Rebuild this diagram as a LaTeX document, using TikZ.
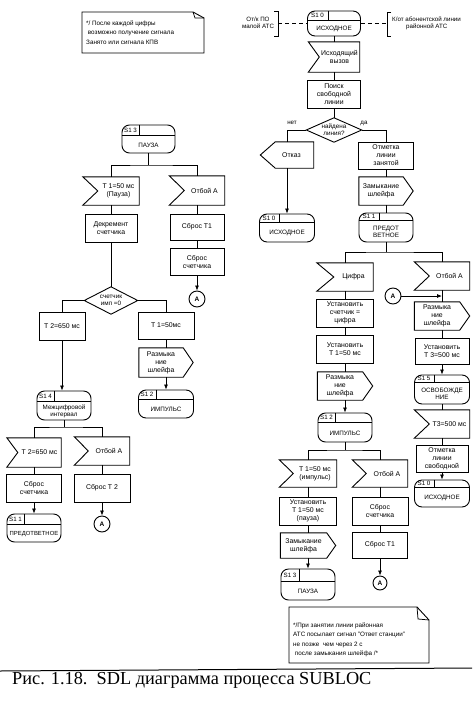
\documentclass[tikz,border=0pt]{standalone}
\usepackage{fontspec}
\setmainfont{Liberation Sans}
\newfontfamily\capfont{Liberation Serif}
\usetikzlibrary{calc,arrows.meta}
\tikzset{
  shp/.style={line width=0.9pt},
  ln/.style={line width=0.75pt},
  arr/.style={line width=0.75pt,-{Latex[length=5pt,width=4pt]}},
  txt/.style={font=\fontsize{6.9}{8}\selectfont, align=center, inner sep=0pt},
  stxt/.style={font=\fontsize{6.3}{7.2}\selectfont, align=center, inner sep=0pt},
  lbl/.style={font=\fontsize{6.2}{7.2}\selectfont, inner sep=0pt},
  conn/.style={shp,draw,circle,minimum size=16pt,inner sep=0pt,font=\bfseries\fontsize{6.5}{7}\selectfont},
  notetxt/.style={anchor=north west,align=left,inner sep=0pt,font=\fontsize{6.3}{9.5}\selectfont},
}
% task box
\newcommand\sdltask[6]{%
  \node[shp,draw,minimum width=#4pt,minimum height=#5pt,txt] (#1) at (#2,#3) {#6};}
% input: notch on the left
\newcommand\sdlin[7]{%
  \node[minimum width=#4pt,minimum height=#5pt,inner sep=0pt] (#1) at (#2,#3) {};
  \draw[shp] (#1.north west) -- (#1.north east) -- (#1.south east) -- (#1.south west) -- ($(#1.west)+(#6,0)$) -- cycle;
  \node[txt] (#1-t) at ($(#1.center)+(0.5*#6,0)$) {#7};}
% output: point on the right
\newcommand\sdlout[7]{%
  \node[minimum width=#4pt,minimum height=#5pt,inner sep=0pt] (#1) at (#2,#3) {};
  \draw[shp] (#1.north west) -- ($(#1.north east)+(-#6,0)$) -- (#1.east) -- ($(#1.south east)+(-#6,0)$) -- (#1.south west) -- cycle;
  \node[txt] (#1-t) at ($(#1.center)+(-0.5*#6,0)$) {#7};}
% output: point on the left
\newcommand\sdloutl[7]{%
  \node[minimum width=#4pt,minimum height=#5pt,inner sep=0pt] (#1) at (#2,#3) {};
  \draw[shp] ($(#1.north west)+(#6,0)$) -- (#1.north east) -- (#1.south east) -- ($(#1.south west)+(#6,0)$) -- (#1.west) -- cycle;
  \node[txt] (#1-t) at ($(#1.center)+(0.3*#6,0)$) {#7};}
% state: name,cx,cy,w,h,label,lw,lh,text
\newcommand\sdlstate[9]{%
  \node[shp,draw,rounded corners=7.5pt,minimum width=#4pt,minimum height=#5pt,inner sep=0pt] (#1) at (#2,#3) {};
  \draw[shp] ($(#1.north west)+(0,#8)$) -- ($(#1.north east)+(0,#8)$);
  \draw[shp] ($(#1.north west)+(#7,0)$) -- ++(0,#8);
  \node[lbl] (#1-l) at ($(#1.north west)+(0.5*#7,0.5*#8)$) {#6};
  \node[stxt] (#1-t) at ($(#1.south)+(0,0.5*#8-0.5*#5)$) {#9};}
% decision
\newcommand\sdldec[6]{%
  \node[minimum width=#4pt,minimum height=#5pt,inner sep=0pt] (#1) at (#2,#3) {};
  \draw[shp] (#1.north) -- (#1.east) -- (#1.south) -- (#1.west) -- cycle;
  \node[stxt] (#1-t) at (#1.center) {#6};}

\begin{document}
\begin{tikzpicture}[x=1pt,y=-1pt]
\useasboundingbox (0,0) rectangle (472,720);

% ---------- notes ----------
\draw[shp] (82,12) -- (193,12) -- (204,18) -- (204,53) -- (82,53) -- cycle;
\draw[ln] (193,12) -- (195,18) -- (204,18);
\node[notetxt] (note1) at (86,20.5) {*/ После каждой цифры\\\ возможно получение сигнала\\Занято или сигнала КПВ};

\draw[shp] (289,607) -- (417,607) -- (429,620) -- (429,663) -- (289,663) -- cycle;
\draw[ln] (417,607) -- (418,619) -- (429,620);
\node[notetxt] (note2) at (293,622.5) {*/При занятии линии районная\\АТС посылает сигнал "Ответ станции"\\не позже\ \ чем через 2 с\\\ после замыкания шлейфа /*};

% ---------- right part ----------
\sdlstate{s10a}{334}{23.5}{53}{25}{S1 0}{21}{10}{ИСХОДНОЕ}
% environment brackets
\coordinate (bl) at (278,23.5);
\coordinate (br) at (387,23.5);
\draw[shp] (274,11) -- (278,11) -- (278,36) -- (274,36);
\draw[shp] (391,12) -- (387,12) -- (387,36) -- (391,36);
\draw[ln,dashed,dash pattern=on 4pt off 3pt] (bl) -- (s10a.west);
\draw[ln,dashed,dash pattern=on 4pt off 3pt] (s10a.east) -- (br);
\node[lbl,align=center] (envl) at (258,23) {От/к ПО\\малой АТС};
\node[lbl,align=left,anchor=west] (envr) at (392,23.5) {К/от абонентской линии\\\hspace*{14pt}районной АТС};

\sdlin{in1}{334}{57}{51}{30}{11}{Исходящий\\вызов}
\sdltask{t1}{334}{94}{53}{28}{Поиск\\свободной\\линии}
\sdldec{d1}{334}{130}{55}{24}{найдена\\линия?}
\node[lbl] (no) at (292,123) {нет};
\node[lbl] (yes) at (364,123) {да};
\sdloutl{otk}{287}{155}{53}{26}{15}{Отказ}
\sdlstate{s10b}{287}{228}{55}{28}{S1 0}{20}{9}{ИСХОДНОЕ}
\sdltask{otm}{386}{155.5}{55}{27}{Отметка\\линии\\занятой}
\sdlout{zam1}{386}{191}{54}{28}{10}{Замыкание\\шлейфа}
\sdlstate{s11a}{386}{227.5}{54}{29}{S1 1}{21}{8}{ПРЕДОТ\\ВЕТНОЕ}

\sdlin{cif}{345}{277}{56}{28}{17}{Цифра}
\sdlin{otb1}{442}{276}{55}{28}{15}{Отбой А}
\sdltask{uc}{345}{313}{57}{28}{Установить\\счетчик =\\цифра}
\sdltask{ut1}{345}{349}{57}{28}{Установить\\Т 1=50 мс}
\sdlout{raz1}{345}{386}{55}{28}{10}{Размыка\\ние\\шлейфа}
\sdlstate{s12a}{345}{427.5}{54}{29}{S1 2}{18}{10}{ИМПУЛЬС}

\node[conn] (a2) at (393,296) {А};
\sdlout{raz2}{442}{316}{55}{28}{10}{Размыка\\ние\\шлейфа}
\sdltask{ut3}{442}{351}{54}{26}{Установить\\Т 3=500 мс}
\sdlstate{s15}{442}{389.5}{55}{29}{S1 5}{20}{8}{ОСВОБОЖДЕ\\НИЕ}
\sdlin{t3}{442}{424}{55}{28}{15}{Т3=500 мс}
\sdltask{ots}{442}{458.5}{52}{27}{Отметка\\линии\\свободной}
\sdlstate{s10c}{442}{493.5}{55}{27}{S1 0}{20}{8}{ИСХОДНОЕ}

\sdlin{ti}{308}{473.5}{57}{27}{14}{Т 1=50 мс\\(импульс)}
\sdlin{otb2}{380}{473.5}{55}{27}{14}{Отбой А}
\sdltask{ut2}{308}{511}{57}{28}{Установить\\Т 1=50 мс\\(пауза)}
\sdltask{ss1}{380}{511}{56}{28}{Сброс\\счетчика}
\sdlout{zam2}{308}{545.5}{55}{25}{9}{Замыкание\\шлейфа}
\sdltask{st1}{380}{545}{55}{26}{Сброс Т1}
\sdlstate{s13b}{308}{584.5}{54}{31}{S1 3}{19}{13}{ПАУЗА}
\node[conn,minimum size=14pt] (a1) at (380,583) {А};

% connectors right
\draw[ln] (s10a.south) -- (in1.north);
\draw[ln] (in1.south) -- (t1.north);
\draw[ln] (t1.south) -- (d1.north);
\draw[ln] (d1.west) -| (otk.north);
\draw[ln] (d1.east) -| (otm.north);
\draw[arr] (otk.south) -- (s10b.north);
\draw[ln] (otm.south) -- (zam1.north);
\draw[ln] (zam1.south) -- (s11a.north);
\coordinate (br1) at (386,252);
\draw[ln] (s11a.south) -- (br1);
\draw[ln] (cif.north) |- (br1) -| (otb1.north);
\draw[ln] (cif.south) -- (uc.north);
\draw[ln] (uc.south) -- (ut1.north);
\draw[ln] (ut1.south) -- (raz1.north);
\draw[arr] (raz1.south) -- (s12a.north);
\draw[ln] (otb1.south) -- (raz2.north);
\draw[arr] (a2.east) -- (a2.east -| otb1.south);
\draw[ln] (raz2.south) -- (ut3.north);
\draw[arr] (ut3.south) -- (s15.north);
\draw[ln] (s15.south) -- (t3.north);
\draw[ln] (t3.south) -- (ots.north);
\draw[arr] (ots.south) -- (s10c.north);
\coordinate (br2) at (345,450);
\draw[ln] (s12a.south) -- (br2);
\draw[ln] (ti.north) |- (br2) -| (otb2.north);
\draw[ln] (ti.south) -- (ut2.north);
\draw[ln] (ut2.south) -- (zam2.north);
\draw[arr] (zam2.south) -- (s13b.north);
\draw[ln] (otb2.south) -- (ss1.north);
\draw[ln] (ss1.south) -- (st1.north);
\draw[arr] (st1.south) -- (a1.north);

% ---------- left part ----------
\sdlstate{s13a}{148.5}{139}{53}{28}{S1 3}{18}{11}{ПАУЗА}
\sdlin{tp}{111}{191}{56}{28}{15}{Т 1=50 мс\\(Пауза)}
\sdlin{otb3}{197}{190.5}{55}{29}{15}{Отбой А}
\sdltask{dec}{111}{228}{52}{28}{Декремент\\счетчика}
\sdltask{st1b}{197}{227}{54}{26}{Сброс Т1}
\sdltask{ss2}{197}{261.5}{54}{27}{Сброс\\счетчика}
\node[conn] (a3) at (197,299) {А};
\sdldec{d2}{111}{300.5}{53}{27}{счетчик\\имп =0}
\sdltask{t2}{62}{326}{46}{28}{Т 2=650 мс}
\sdltask{tm}{166}{325.5}{56}{27}{Т 1=50мс}
\sdlout{raz3}{166}{362.5}{54}{29}{10}{Размыка\\ние\\шлейфа}
\sdlstate{s12b}{166}{404}{55}{28}{S1 2}{18}{10}{ИМПУЛЬС}
\sdlstate{s14}{64}{405.5}{54}{29}{S1 4}{18}{11}{Межцифровой\\интервал}
\sdlin{t2i}{34}{452.5}{54}{29}{11}{Т 2=650 мс}
\sdlin{otb4}{102}{451}{55}{28}{14}{Отбой А}
\sdltask{ss3}{34}{488}{55}{28}{Сброс\\счетчика}
\sdltask{st2}{102}{488}{56}{28}{Сброс Т 2}
\sdlstate{s11b}{34}{528}{54}{28}{S1 1}{18}{11}{\fontsize{5.9}{7}\selectfont ПРЕДОТВЕТНОЕ}
\node[conn] (a4) at (102,524) {А};

% connectors left
\coordinate (br3) at (148.5,165);
\draw[ln] (s13a.south) -- (br3);
\draw[ln] (tp.north) |- (br3) -| (otb3.north);
\draw[ln] (tp.south) -- (dec.north);
\draw[ln] (dec.south) -- (d2.north);
\draw[ln] (otb3.south) -- (st1b.north);
\draw[ln] (st1b.south) -- (ss2.north);
\draw[arr] (ss2.south) -- (a3.north);
\draw[ln] (d2.west) -| (t2.north);
\draw[ln] (d2.east) -| (tm.north);
\draw[ln] (tm.south) -- (raz3.north);
\draw[arr] (raz3.south) -- (s12b.north);
\draw[arr] (t2.south) -- (t2.south |- s14.north);
\coordinate (br4) at (64,427);
\draw[ln] (s14.south) -- (br4);
\draw[ln] (t2i.north) |- (br4) -| (otb4.north);
\draw[ln] (t2i.south) -- (ss3.north);
\draw[arr] (ss3.south) -- (s11b.north);
\draw[ln] (otb4.south) -- (st2.north);
\draw[arr] (st2.south) -- (a4.north);

% ---------- caption ----------
\coordinate (sepl) at (0,671);
\coordinate (sepr) at (472,668);
\draw[line width=1pt] (sepl) -- (sepr);
\node[anchor=base west,inner sep=0pt,font=\capfont\fontsize{18.3}{20}\selectfont] (cap) at (12,684) {Рис. 1.18.\hspace{0.5em}SDL диаграмма процесса SUBLOC};
\end{tikzpicture}
\end{document}
